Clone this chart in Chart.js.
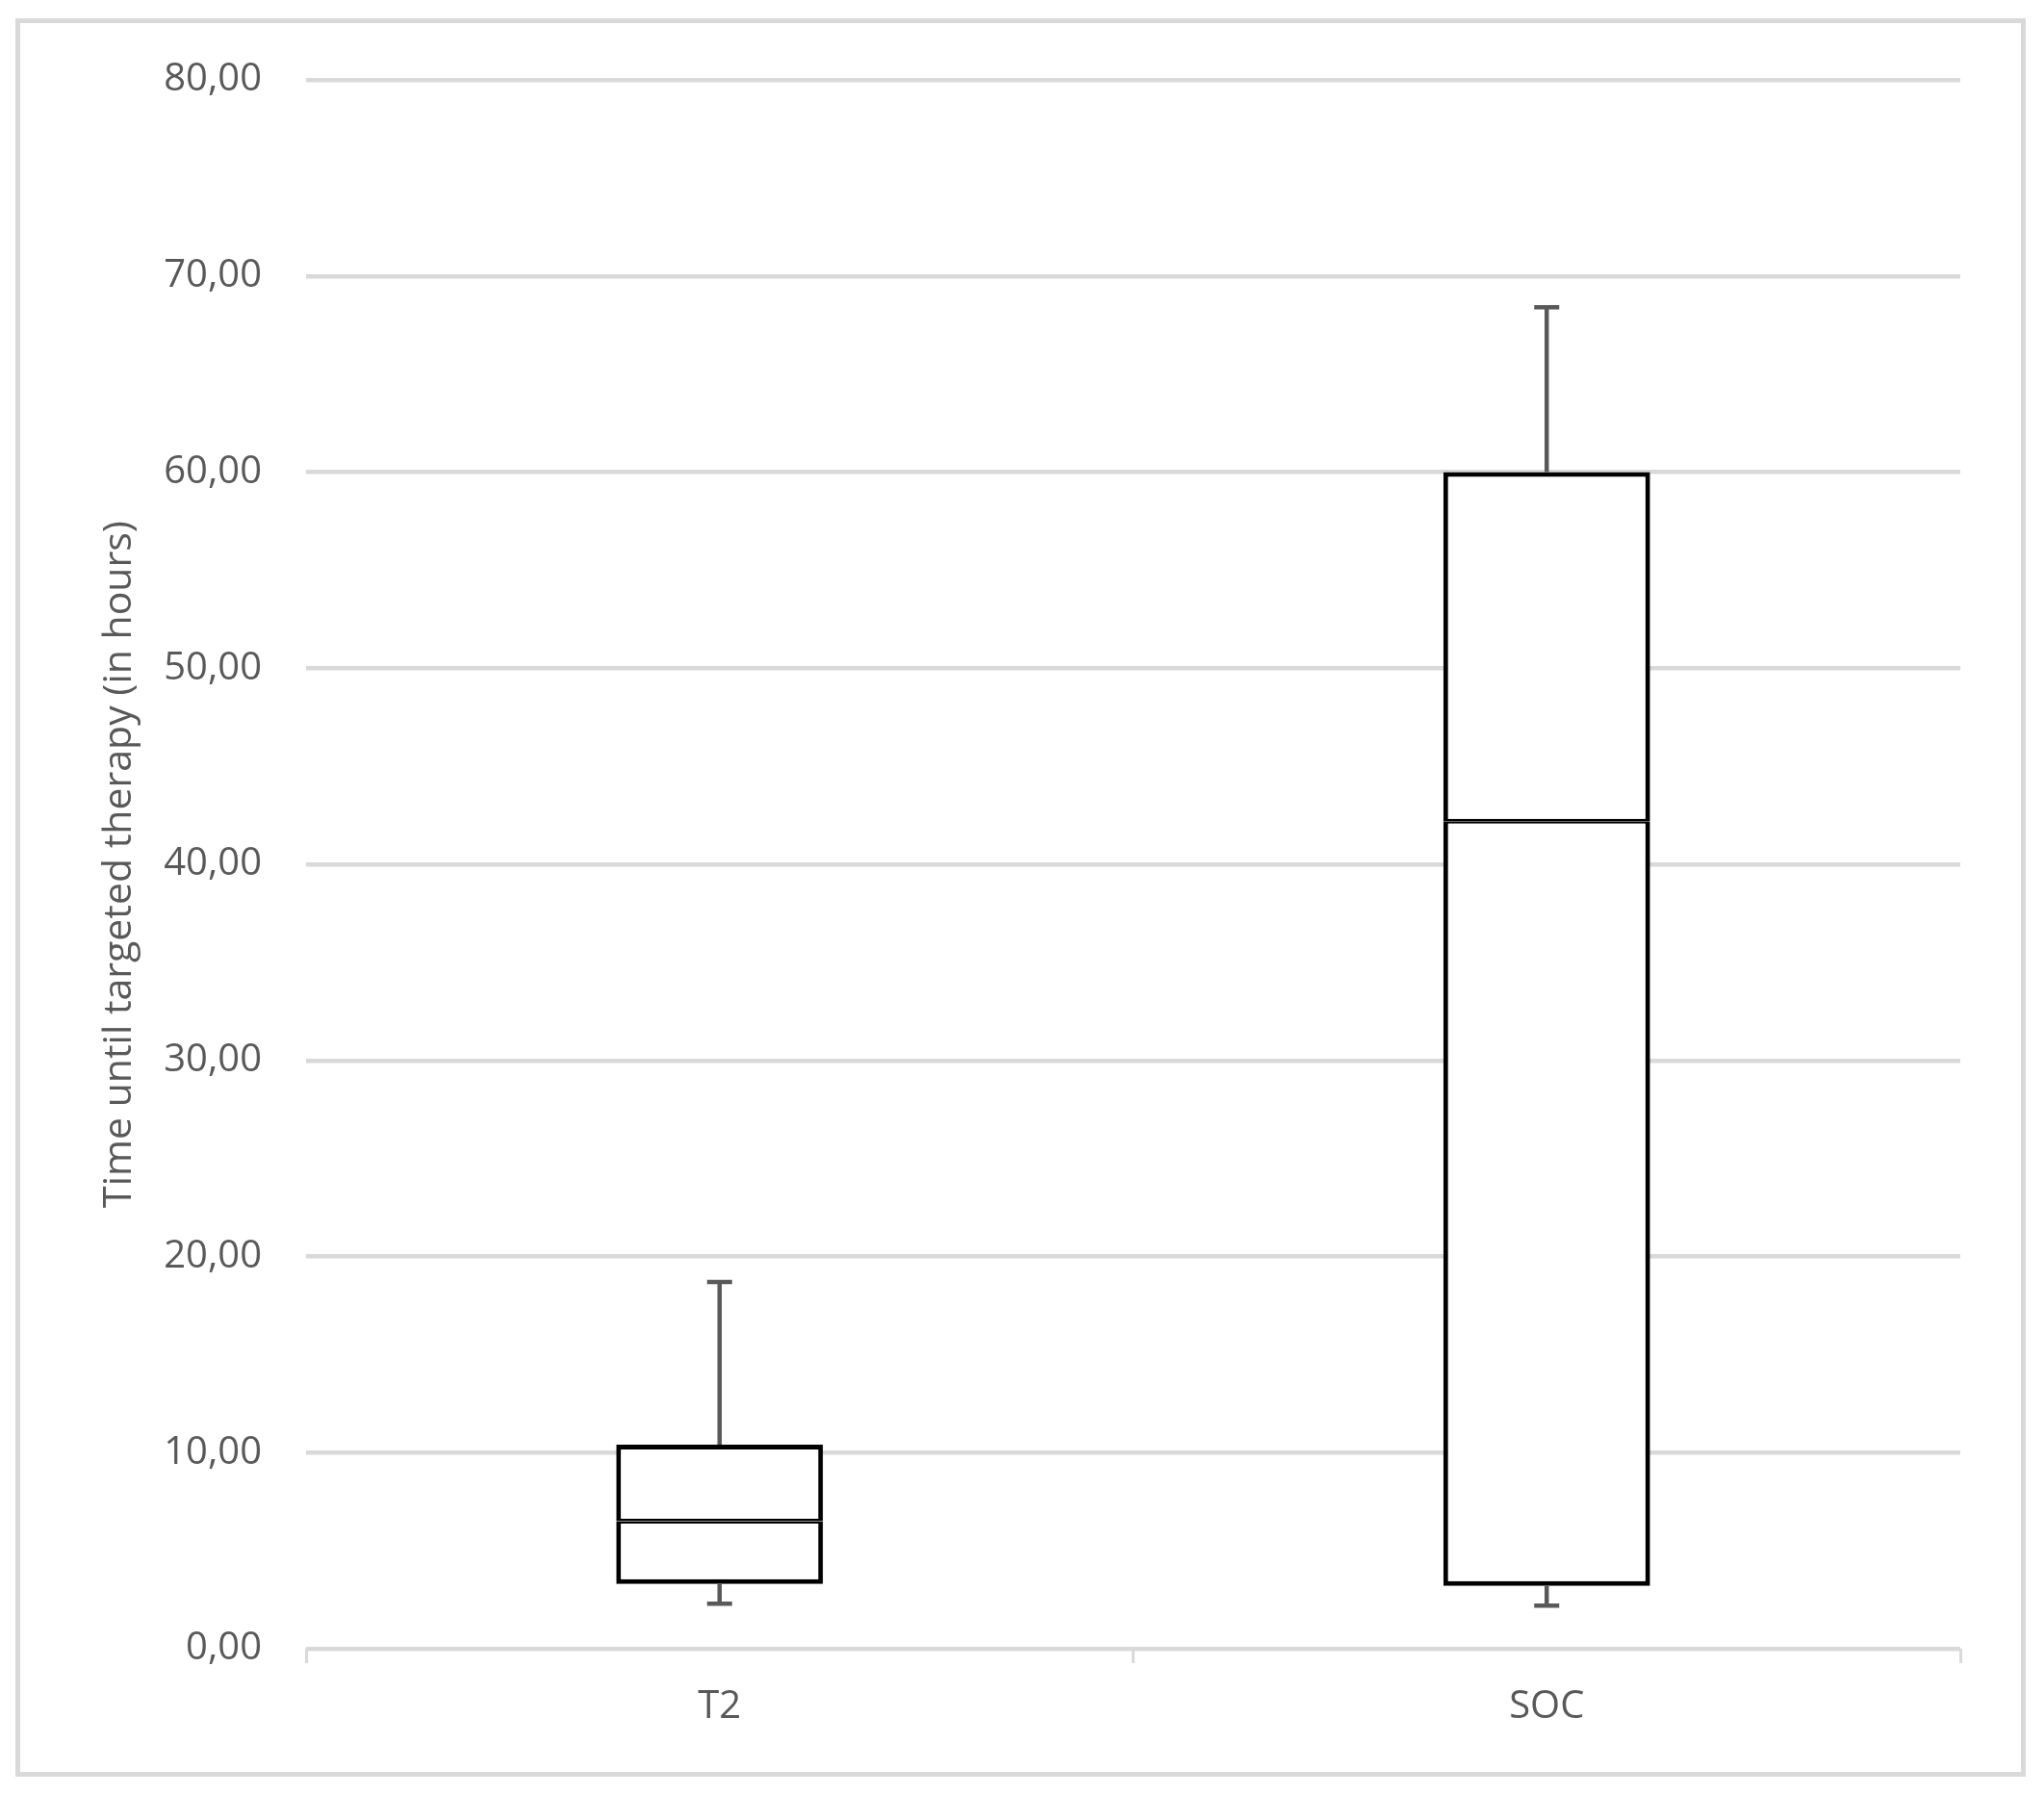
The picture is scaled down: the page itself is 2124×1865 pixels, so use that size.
<!DOCTYPE html>
<html>
<head>
<meta charset="utf-8">
<title>Time until targeted therapy</title>
<script src="https://cdn.jsdelivr.net/npm/chart.js@4.4.1/dist/chart.umd.min.js"></script>
<style>
    html, body { margin: 0; padding: 0; background: #ffffff; }
    #wrap { position: relative; width: 2124px; height: 1865px; }
    #frame {
        position: absolute; left: 16px; top: 19px; width: 2079px; height: 1817px;
        border: 5px solid #d9d9d9; pointer-events: none;
    }
    canvas { position: absolute; left: 0; top: 0; }
</style>
</head>
<body>
<div id="wrap">
    <canvas id="chartBox" width="2124" height="1865"></canvas>
    <div id="frame"></div>
</div>
<script>
// Box plot values
const categories = ['T2', 'SOC'];
const whiskerMin = [2.3, 2.2];
const q1 = [3.3, 3.2];
const median = [6.5, 42.2];
const q3 = [10.4, 60.0];
const whiskerMax = [18.7, 68.4];

// y axis tick labels (0..80 step 10)
const yTickLabels = ['0,00', '10,00', '20,00', '30,00', '40,00', '50,00', '60,00', '70,00', '80,00'];

const textColor = '#595959';
const gridColor = '#d9d9d9';
const fontFamily = '"Open Sans", "Liberation Sans", sans-serif';

/**
 * Whiskers and caps, drawn with the chart's own scales
 */
const whiskerPlugin = {
    id: 'whiskers',
    afterDatasetsDraw(chart) {
        const ctx = chart.ctx;
        const x = chart.scales.x;
        const y = chart.scales.y;
        const capHalf = 13;
        ctx.save();
        ctx.strokeStyle = textColor;
        ctx.lineWidth = 4.5;
        categories.forEach(function (cat, i) {
            const cx = x.getPixelForValue(i);
            // upper whisker
            ctx.beginPath();
            ctx.moveTo(cx, y.getPixelForValue(q3[i]));
            ctx.lineTo(cx, y.getPixelForValue(whiskerMax[i]));
            ctx.moveTo(cx - capHalf, y.getPixelForValue(whiskerMax[i]));
            ctx.lineTo(cx + capHalf, y.getPixelForValue(whiskerMax[i]));
            // lower whisker
            ctx.moveTo(cx, y.getPixelForValue(q1[i]));
            ctx.lineTo(cx, y.getPixelForValue(whiskerMin[i]));
            ctx.moveTo(cx - capHalf, y.getPixelForValue(whiskerMin[i]));
            ctx.lineTo(cx + capHalf, y.getPixelForValue(whiskerMin[i]));
            ctx.stroke();
        });
        ctx.restore();
    }
};

function initBoxChart() {
    const ctx = document.getElementById('chartBox');

    const boxStyle = {
        backgroundColor: '#ffffff',
        borderColor: '#000000',
        borderSkipped: false,
        grouped: false,
        barPercentage: 0.25,
        categoryPercentage: 1.0
    };

    new Chart(ctx, {
        type: 'bar',
        data: {
            labels: categories,
            datasets: [
                Object.assign({
                    label: 'Lower box',
                    data: categories.map((_, i) => [q1[i], median[i]]),
                    borderWidth: { left: 5, right: 5, bottom: 5, top: 2.5 }
                }, boxStyle),
                Object.assign({
                    label: 'Upper box',
                    data: categories.map((_, i) => [median[i], q3[i]]),
                    borderWidth: { left: 5, right: 5, top: 5, bottom: 2.5 }
                }, boxStyle)
            ]
        },
        options: {
            responsive: false,
            animation: false,
            layout: {
                padding: { left: 0, top: 83, right: 87, bottom: 0 }
            },
            plugins: {
                legend: { display: false },
                tooltip: { enabled: false }
            },
            scales: {
                x: {
                    border: { display: false },
                    grid: {
                        display: true,
                        drawOnChartArea: false,
                        drawTicks: true,
                        tickLength: 15,
                        color: gridColor,
                        lineWidth: 3
                    },
                    ticks: {
                        color: textColor,
                        padding: 22,
                        font: { family: fontFamily, size: 40 }
                    },
                    afterFit: function (scale) {
                        scale.height = 152;
                    }
                },
                y: {
                    min: 0,
                    max: 80,
                    border: { display: false },
                    grid: {
                        color: gridColor,
                        lineWidth: 4.5,
                        drawTicks: false
                    },
                    ticks: {
                        stepSize: 10,
                        color: textColor,
                        padding: 46,
                        font: { family: fontFamily, size: 40 },
                        callback: function (value) {
                            return yTickLabels[Math.round(value / 10)];
                        }
                    },
                    title: {
                        display: true,
                        text: 'Time until targeted therapy (in hours)',
                        color: textColor,
                        padding: { top: 100, bottom: 0 },
                        font: { family: fontFamily, size: 41 }
                    },
                    afterFit: function (scale) {
                        scale.width = 318;
                    }
                }
            }
        },
        plugins: [whiskerPlugin]
    });
}

document.addEventListener('DOMContentLoaded', function () {
    try {
        initBoxChart();
    } catch (error) {
        console.error('Error initializing box chart:', error);
    }
});
</script>
</body>
</html>
